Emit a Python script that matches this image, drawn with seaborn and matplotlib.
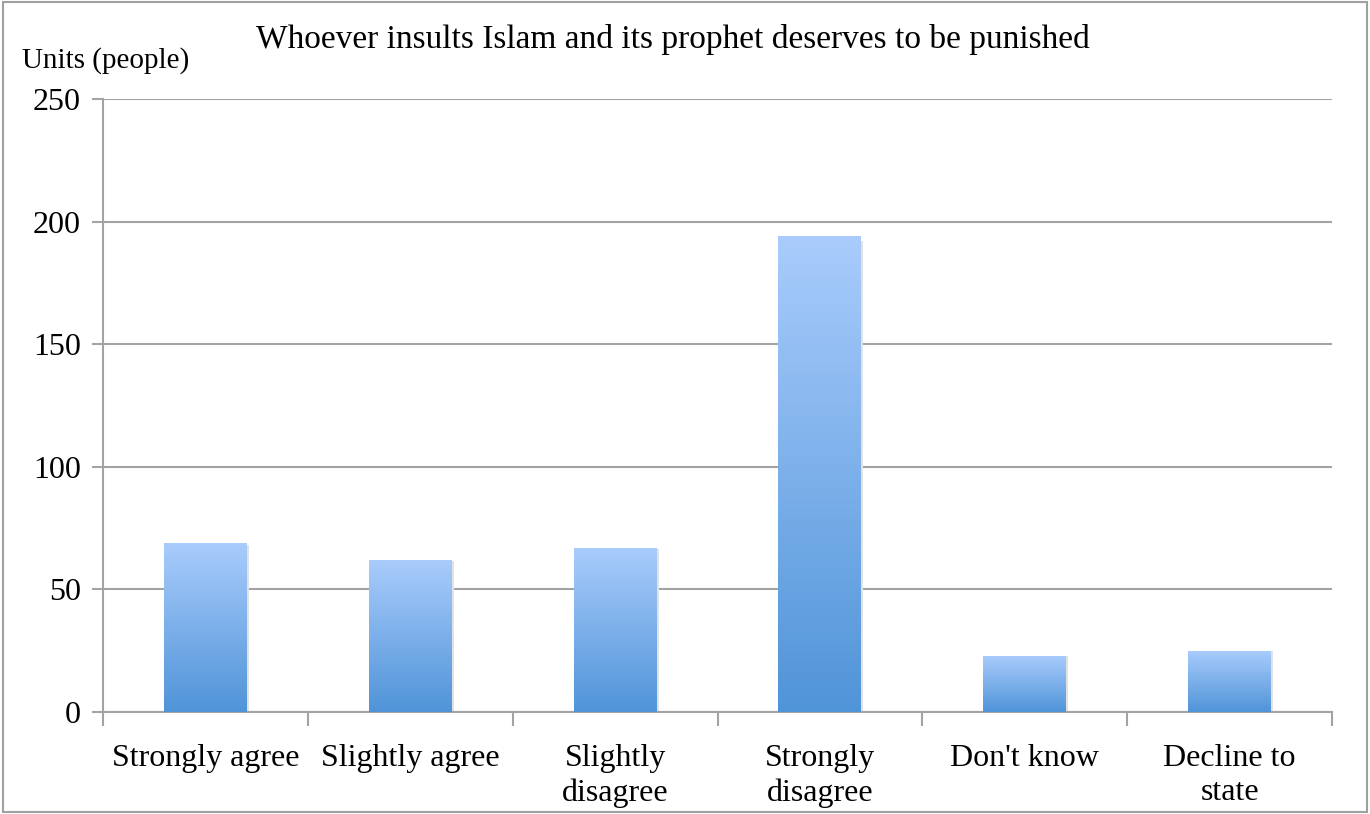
import numpy as np
import pandas as pd
import seaborn as sns
import matplotlib
matplotlib.use('Agg')
from matplotlib import pyplot as plt
from matplotlib.patches import Rectangle

categories = ['Strongly agree', 'Slightly agree', 'Slightly\ndisagree',
              'Strongly\ndisagree', "Don't know", 'Decline to\nstate']
counts = [69, 62, 67, 194, 23, 25]
yticks = [0, 50, 100, 150, 200, 250]

df = pd.DataFrame({'answer': categories, 'people': counts})

sns.set_style('white')
plt.rcParams['font.family'] = ['Liberation Serif', 'DejaVu Serif']
plt.rcParams['text.color'] = 'black'
plt.rcParams['xtick.labelcolor'] = 'black'
plt.rcParams['ytick.labelcolor'] = 'black'

fig = plt.figure(figsize=(13.7, 8.14), dpi=100)
ax = fig.add_axes([0.0752, 0.1253, 0.8971, 0.7531])

sns.barplot(data=df, x='answer', y='people', ax=ax, width=0.405,
            color='#7fb0ec', edgecolor='none', zorder=3)

# gradient fill for each bar, light on top, darker at the bottom
top_c = np.array([0xa9, 0xcc, 0xfc]) / 255
bot_c = np.array([0x50, 0x94, 0xd8]) / 255
grad = np.linspace(0, 1, 256)[:, None]
img = top_c[None, None, :] * (1 - grad[:, :, None]) + bot_c[None, None, :] * grad[:, :, None]
for p in ax.patches:
    x0, y0 = p.get_x(), p.get_y()
    w, h = p.get_width(), p.get_height()
    # soft shadow to the right
    ax.add_patch(Rectangle((x0 + w, y0), 0.01, h * 0.99, color='#e2e2e2',
                           zorder=2.5, lw=0))
    im = ax.imshow(img, extent=[x0, x0 + w, y0, y0 + h], aspect='auto',
                   origin='upper', zorder=3.1)
    im.set_clip_path(p)
    p.set_facecolor('none')

ax.set_xlim(-0.5, 5.5)
ax.set_ylim(0, 250)
ax.set_yticks(yticks)
ax.set_yticklabels([str(t) for t in yticks], fontsize=23)
ax.yaxis.grid(True, color='#a3a3a3', lw=1.5, zorder=0)
ax.set_axisbelow(True)

ax.set_xticks(range(6))
ax.set_xticklabels(categories, fontsize=23, linespacing=1.25)
ax.set_xticks(np.arange(-0.5, 6, 1), minor=True)
ax.tick_params(axis='x', which='major', length=0, pad=23)
ax.tick_params(axis='x', which='minor', length=10, width=1.5, color='#a3a3a3',
               direction='out', bottom=True)
ax.tick_params(axis='y', length=8, width=1.5, color='#a3a3a3', left=True,
               direction='out', pad=8)
ax.set_xlabel('')
ax.set_ylabel('')

for side in ['top', 'right']:
    ax.spines[side].set_visible(False)
for side in ['left', 'bottom']:
    ax.spines[side].set_color('#a3a3a3')
    ax.spines[side].set_linewidth(1.5)

fig.text(0.491, 0.951, 'Whoever insults Islam and its prophet deserves to be punished',
         ha='center', va='center', fontsize=24)
fig.text(0.016, 0.926, 'Units (people)', ha='left', va='center', fontsize=21)

# outer frame
fig.add_artist(Rectangle((0.002, 0.002), 0.996, 0.996, transform=fig.transFigure,
                         fill=False, edgecolor='#a0a0a0', lw=1.5))

fig.savefig('out.png', dpi=100)
